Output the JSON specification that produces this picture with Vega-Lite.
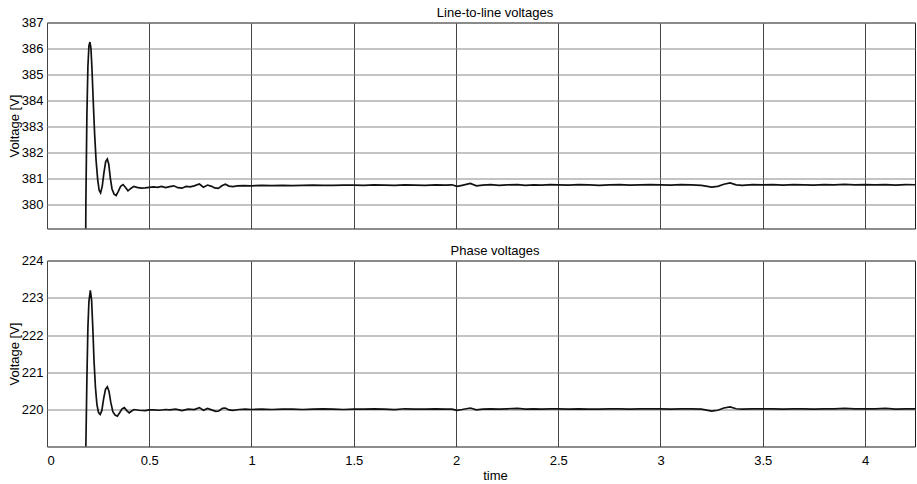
{
  "$schema": "https://vega.github.io/schema/vega-lite/v6.json",
  "autosize": {"type": "pad"},
  "padding": {"left": 7, "top": 5.5, "right": 0, "bottom": 0.5},
  "background": "white",
  "bounds": "flush",
  "spacing": 32,
  "config": {
    "font": "Liberation Sans",
    "view": {"stroke": "#1a1a1a", "strokeWidth": 1},
    "axis": {
      "labelFontSize": 13,
      "titleFontSize": 13,
      "labelColor": "#000",
      "titleColor": "#000",
      "titleFontWeight": "normal",
      "domain": false,
      "ticks": false
    },
    "title": {"fontSize": 13, "fontWeight": "normal", "color": "#000"}
  },
  "datasets": {
    "lineToLine": [
      {"t": 0.186, "v": 372}, {"t": 0.19, "v": 380.0}, {"t": 0.195, "v": 383.4}, {"t": 0.2, "v": 385.3},
      {"t": 0.205, "v": 386.1}, {"t": 0.21, "v": 386.25}, {"t": 0.215, "v": 386.0}, {"t": 0.22, "v": 385.2},
      {"t": 0.226, "v": 384.0}, {"t": 0.233, "v": 382.7}, {"t": 0.24, "v": 381.7}, {"t": 0.248, "v": 380.95},
      {"t": 0.255, "v": 380.55}, {"t": 0.262, "v": 380.45}, {"t": 0.27, "v": 380.7}, {"t": 0.278, "v": 381.2},
      {"t": 0.287, "v": 381.65}, {"t": 0.295, "v": 381.75}, {"t": 0.302, "v": 381.55}, {"t": 0.31, "v": 381.0},
      {"t": 0.318, "v": 380.6}, {"t": 0.328, "v": 380.4}, {"t": 0.338, "v": 380.35}, {"t": 0.348, "v": 380.5},
      {"t": 0.36, "v": 380.7}, {"t": 0.372, "v": 380.77}, {"t": 0.384, "v": 380.66}, {"t": 0.396, "v": 380.53},
      {"t": 0.41, "v": 380.62}, {"t": 0.424, "v": 380.7}, {"t": 0.44, "v": 380.66}, {"t": 0.46, "v": 380.63},
      {"t": 0.48, "v": 380.64}, {"t": 0.5, "v": 380.66}, {"t": 0.52, "v": 380.68}, {"t": 0.54, "v": 380.66},
      {"t": 0.56, "v": 380.7}, {"t": 0.58, "v": 380.65}, {"t": 0.6, "v": 380.69}, {"t": 0.62, "v": 380.72},
      {"t": 0.64, "v": 380.65}, {"t": 0.66, "v": 380.63}, {"t": 0.68, "v": 380.7}, {"t": 0.7, "v": 380.68},
      {"t": 0.72, "v": 380.72}, {"t": 0.745, "v": 380.79}, {"t": 0.765, "v": 380.67}, {"t": 0.785, "v": 380.75},
      {"t": 0.805, "v": 380.7}, {"t": 0.82, "v": 380.64}, {"t": 0.838, "v": 380.62}, {"t": 0.855, "v": 380.72},
      {"t": 0.872, "v": 380.78}, {"t": 0.89, "v": 380.71}, {"t": 0.91, "v": 380.69}, {"t": 0.93, "v": 380.72},
      {"t": 0.96, "v": 380.73}, {"t": 1.0, "v": 380.72}, {"t": 1.05, "v": 380.74}, {"t": 1.1, "v": 380.73},
      {"t": 1.15, "v": 380.74}, {"t": 1.2, "v": 380.73}, {"t": 1.25, "v": 380.74}, {"t": 1.3, "v": 380.75},
      {"t": 1.35, "v": 380.74}, {"t": 1.4, "v": 380.74}, {"t": 1.45, "v": 380.75}, {"t": 1.5, "v": 380.75},
      {"t": 1.55, "v": 380.74}, {"t": 1.6, "v": 380.76}, {"t": 1.65, "v": 380.75}, {"t": 1.7, "v": 380.74},
      {"t": 1.75, "v": 380.76}, {"t": 1.8, "v": 380.75}, {"t": 1.85, "v": 380.74}, {"t": 1.9, "v": 380.76},
      {"t": 1.95, "v": 380.75}, {"t": 1.98, "v": 380.76}, {"t": 2.005, "v": 380.7}, {"t": 2.03, "v": 380.74},
      {"t": 2.07, "v": 380.81}, {"t": 2.1, "v": 380.72}, {"t": 2.13, "v": 380.75}, {"t": 2.17, "v": 380.77},
      {"t": 2.21, "v": 380.74}, {"t": 2.25, "v": 380.76}, {"t": 2.3, "v": 380.77}, {"t": 2.34, "v": 380.74},
      {"t": 2.38, "v": 380.76}, {"t": 2.42, "v": 380.75}, {"t": 2.46, "v": 380.77}, {"t": 2.5, "v": 380.76},
      {"t": 2.55, "v": 380.75}, {"t": 2.6, "v": 380.77}, {"t": 2.65, "v": 380.76}, {"t": 2.7, "v": 380.74},
      {"t": 2.75, "v": 380.76}, {"t": 2.8, "v": 380.77}, {"t": 2.85, "v": 380.75}, {"t": 2.9, "v": 380.76},
      {"t": 2.95, "v": 380.77}, {"t": 3.0, "v": 380.76}, {"t": 3.05, "v": 380.75}, {"t": 3.1, "v": 380.77},
      {"t": 3.15, "v": 380.76}, {"t": 3.2, "v": 380.74}, {"t": 3.25, "v": 380.67}, {"t": 3.28, "v": 380.7},
      {"t": 3.31, "v": 380.78}, {"t": 3.34, "v": 380.83}, {"t": 3.37, "v": 380.76}, {"t": 3.4, "v": 380.74},
      {"t": 3.45, "v": 380.77}, {"t": 3.5, "v": 380.76}, {"t": 3.55, "v": 380.77}, {"t": 3.6, "v": 380.75},
      {"t": 3.65, "v": 380.77}, {"t": 3.7, "v": 380.76}, {"t": 3.75, "v": 380.75}, {"t": 3.8, "v": 380.77},
      {"t": 3.85, "v": 380.76}, {"t": 3.9, "v": 380.78}, {"t": 3.95, "v": 380.76}, {"t": 4.0, "v": 380.77},
      {"t": 4.05, "v": 380.76}, {"t": 4.1, "v": 380.77}, {"t": 4.15, "v": 380.75}, {"t": 4.2, "v": 380.77},
      {"t": 4.25, "v": 380.76}, {"t": 4.3, "v": 380.76}
    ],
    "phase": [
      {"t": 0.186, "v": 212}, {"t": 0.19, "v": 219.0}, {"t": 0.195, "v": 220.8}, {"t": 0.2, "v": 222.2},
      {"t": 0.205, "v": 222.9}, {"t": 0.212, "v": 223.2}, {"t": 0.218, "v": 222.95}, {"t": 0.224, "v": 222.2},
      {"t": 0.23, "v": 221.3}, {"t": 0.237, "v": 220.6}, {"t": 0.244, "v": 220.15}, {"t": 0.252, "v": 219.93},
      {"t": 0.26, "v": 219.88}, {"t": 0.268, "v": 219.98}, {"t": 0.277, "v": 220.3}, {"t": 0.286, "v": 220.55},
      {"t": 0.295, "v": 220.62}, {"t": 0.303, "v": 220.5}, {"t": 0.312, "v": 220.2}, {"t": 0.322, "v": 219.95},
      {"t": 0.333, "v": 219.86}, {"t": 0.344, "v": 219.83}, {"t": 0.356, "v": 219.93}, {"t": 0.367, "v": 220.03},
      {"t": 0.378, "v": 220.06}, {"t": 0.39, "v": 219.98}, {"t": 0.402, "v": 219.92}, {"t": 0.414, "v": 219.97},
      {"t": 0.426, "v": 220.01}, {"t": 0.45, "v": 219.99}, {"t": 0.48, "v": 219.98}, {"t": 0.5, "v": 220.0},
      {"t": 0.52, "v": 220.0}, {"t": 0.55, "v": 219.99}, {"t": 0.58, "v": 220.01}, {"t": 0.6, "v": 220.0},
      {"t": 0.63, "v": 220.02}, {"t": 0.66, "v": 219.98}, {"t": 0.69, "v": 220.02}, {"t": 0.72, "v": 220.01},
      {"t": 0.745, "v": 220.06}, {"t": 0.765, "v": 219.99}, {"t": 0.785, "v": 220.04}, {"t": 0.805, "v": 220.0},
      {"t": 0.825, "v": 219.96}, {"t": 0.84, "v": 219.97}, {"t": 0.858, "v": 220.04}, {"t": 0.872, "v": 220.05},
      {"t": 0.89, "v": 220.0}, {"t": 0.91, "v": 219.99}, {"t": 0.94, "v": 220.01}, {"t": 0.97, "v": 220.02},
      {"t": 1.0, "v": 220.01}, {"t": 1.05, "v": 220.02}, {"t": 1.1, "v": 220.01}, {"t": 1.15, "v": 220.02},
      {"t": 1.2, "v": 220.02}, {"t": 1.25, "v": 220.01}, {"t": 1.3, "v": 220.02}, {"t": 1.35, "v": 220.03},
      {"t": 1.4, "v": 220.02}, {"t": 1.45, "v": 220.01}, {"t": 1.5, "v": 220.02}, {"t": 1.55, "v": 220.02},
      {"t": 1.6, "v": 220.03}, {"t": 1.65, "v": 220.02}, {"t": 1.7, "v": 220.01}, {"t": 1.75, "v": 220.03},
      {"t": 1.8, "v": 220.02}, {"t": 1.85, "v": 220.02}, {"t": 1.9, "v": 220.03}, {"t": 1.95, "v": 220.02},
      {"t": 1.98, "v": 220.02}, {"t": 2.005, "v": 219.99}, {"t": 2.03, "v": 220.01}, {"t": 2.07, "v": 220.05},
      {"t": 2.1, "v": 220.0}, {"t": 2.13, "v": 220.02}, {"t": 2.17, "v": 220.03}, {"t": 2.21, "v": 220.02},
      {"t": 2.25, "v": 220.03}, {"t": 2.3, "v": 220.04}, {"t": 2.34, "v": 220.02}, {"t": 2.38, "v": 220.03},
      {"t": 2.42, "v": 220.02}, {"t": 2.46, "v": 220.03}, {"t": 2.5, "v": 220.03}, {"t": 2.55, "v": 220.02},
      {"t": 2.6, "v": 220.03}, {"t": 2.65, "v": 220.02}, {"t": 2.7, "v": 220.02}, {"t": 2.75, "v": 220.03},
      {"t": 2.8, "v": 220.03}, {"t": 2.85, "v": 220.02}, {"t": 2.9, "v": 220.03}, {"t": 2.95, "v": 220.03},
      {"t": 3.0, "v": 220.03}, {"t": 3.05, "v": 220.02}, {"t": 3.1, "v": 220.03}, {"t": 3.15, "v": 220.03},
      {"t": 3.2, "v": 220.02}, {"t": 3.25, "v": 219.97}, {"t": 3.28, "v": 219.99}, {"t": 3.31, "v": 220.05},
      {"t": 3.34, "v": 220.08}, {"t": 3.37, "v": 220.03}, {"t": 3.4, "v": 220.02}, {"t": 3.45, "v": 220.03},
      {"t": 3.5, "v": 220.03}, {"t": 3.55, "v": 220.03}, {"t": 3.6, "v": 220.02}, {"t": 3.65, "v": 220.03},
      {"t": 3.7, "v": 220.03}, {"t": 3.75, "v": 220.02}, {"t": 3.8, "v": 220.03}, {"t": 3.85, "v": 220.03},
      {"t": 3.9, "v": 220.04}, {"t": 3.95, "v": 220.03}, {"t": 4.0, "v": 220.03}, {"t": 4.05, "v": 220.03},
      {"t": 4.1, "v": 220.04}, {"t": 4.15, "v": 220.02}, {"t": 4.2, "v": 220.03}, {"t": 4.25, "v": 220.03},
      {"t": 4.3, "v": 220.03}
    ]
  },
  "vconcat": [
    {
      "width": 868,
      "height": 206,
      "title": {"text": "Line-to-line voltages", "offset": -3, "dx": 14},
      "data": {"name": "lineToLine"},
      "mark": {"type": "line", "clip": true, "color": "#111", "strokeWidth": 1.7},
      "encoding": {
        "x": {
          "field": "t",
          "type": "quantitative",
          "scale": {"domain": [0, 4.2445], "nice": false},
          "axis": {"values": [0, 0.5, 1, 1.5, 2, 2.5, 3, 3.5, 4], "labels": false, "title": null, "grid": true, "gridColor": "#444", "gridOpacity": 1}
        },
        "y": {
          "field": "v",
          "type": "quantitative",
          "scale": {"domain": [379.08, 387], "nice": false, "zero": false},
          "axis": {
            "values": [380, 381, 382, 383, 384, 385, 386, 387],
            "title": "Voltage [V]",
            "grid": true,
            "gridColor": "#888",
            "gridOpacity": 1,
            "labelPadding": 4,
            "titleX": -33,
            "titleBaseline": "middle"
          }
        }
      }
    },
    {
      "width": 868,
      "height": 186,
      "title": {"text": "Phase voltages", "offset": -3, "dx": 14},
      "data": {"name": "phase"},
      "mark": {"type": "line", "clip": true, "color": "#111", "strokeWidth": 1.7},
      "encoding": {
        "x": {
          "field": "t",
          "type": "quantitative",
          "scale": {"domain": [0, 4.2445], "nice": false},
          "axis": {
            "values": [0, 0.5, 1, 1.5, 2, 2.5, 3, 3.5, 4],
            "format": "~g",
            "title": "time",
            "grid": true,
            "gridColor": "#444",
            "gridOpacity": 1,
            "labelPadding": 8,
            "titleX": 448,
            "titleY": 29,
            "titleBaseline": "middle"
          }
        },
        "y": {
          "field": "v",
          "type": "quantitative",
          "scale": {"domain": [219.02, 224], "nice": false, "zero": false},
          "axis": {
            "values": [220, 221, 222, 223, 224],
            "title": "Voltage [V]",
            "grid": true,
            "gridColor": "#888",
            "gridOpacity": 1,
            "labelPadding": 4,
            "titleX": -33,
            "titleBaseline": "middle"
          }
        }
      }
    }
  ]
}
